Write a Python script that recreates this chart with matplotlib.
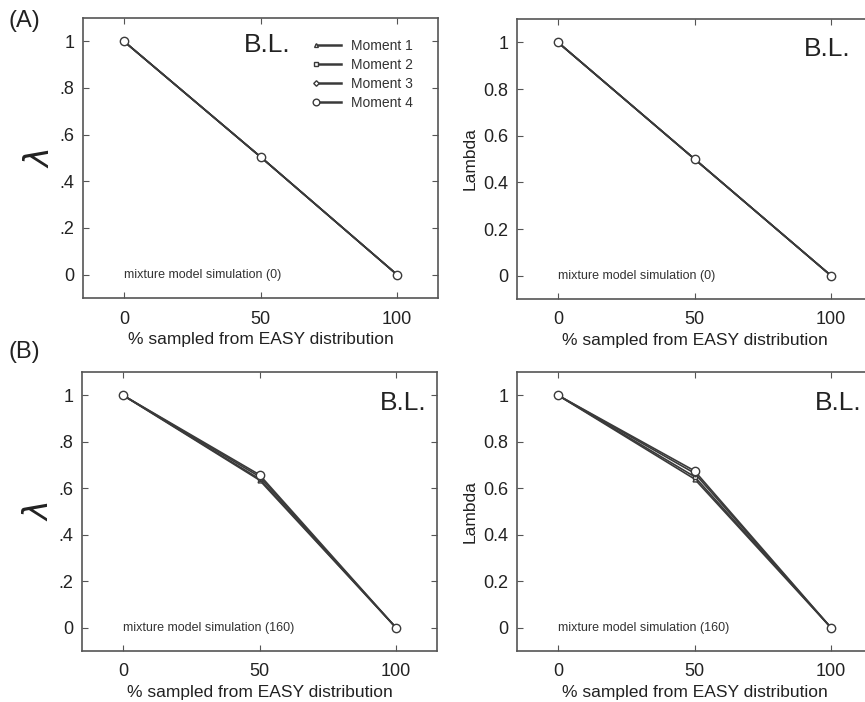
import matplotlib
matplotlib.use("Agg")
import matplotlib.pyplot as plt

plt.rcParams['font.family'] = ['Liberation Sans', 'DejaVu Sans']

# % sampled from EASY distribution
pct_easy = [0, 50, 100]
moment_labels = ['Moment 1', 'Moment 2', 'Moment 3', 'Moment 4']
moment_markers = ['^', 's', 'D', 'o']

# (A) mixture model simulation (0)
lam_a_left = [[1, 0.505, 0], [1, 0.505, 0], [1, 0.505, 0], [1, 0.505, 0]]
lam_a_right = [[1, 0.50, 0], [1, 0.50, 0], [1, 0.50, 0], [1, 0.50, 0]]
# (B) mixture model simulation (160)
lam_b_left = [[1, 0.635, 0], [1, 0.64, 0], [1, 0.65, 0], [1, 0.658, 0]]
lam_b_right = [[1, 0.64, 0], [1, 0.65, 0], [1, 0.665, 0], [1, 0.675, 0]]

ytick_vals = [0, 0.2, 0.4, 0.6, 0.8, 1]
ytick_short = ['0', '.2', '.4', '.6', '.8', '1']
ytick_long = ['0', '0.2', '0.4', '0.6', '0.8', '1']

line_col = '#3a3a3a'
spine_col = '#555555'

fig = plt.figure(figsize=(8.65, 7.02), dpi=100)
W, H = 865, 702


def add_ax(left, top, right, bottom):
    return fig.add_axes([left / W, 1 - bottom / H, (right - left) / W, (bottom - top) / H])


def draw_panel(ax, series, sim_label, short_ticks, bl_pos, legend=False):
    for vals, mk, lab in zip(series, moment_markers, moment_labels):
        ms = 6 if mk == 'o' else 3.5
        ax.plot(pct_easy, vals, color=line_col, lw=1.2, marker=mk, ms=ms,
                mfc='white', mec=line_col, mew=1.0, label=lab)
    ax.set_xlim(-15, 115)
    ax.set_ylim(-0.1, 1.1)
    ax.set_xticks([0, 50, 100])
    ax.set_yticks(ytick_vals)
    ax.set_yticklabels(ytick_short if short_ticks else ytick_long)
    ax.tick_params(direction='in', length=4, top=True, right=True,
                   labelsize=13, colors=spine_col, labelcolor='#222222', pad=6)
    ax.tick_params(axis='x', pad=9)
    for sp in ax.spines.values():
        sp.set_color(spine_col)
        sp.set_linewidth(1.2)
    ax.set_xlabel('% sampled from EASY distribution', fontsize=12.5, color='#222222', labelpad=3)
    ax.text(0, 0, sim_label, fontsize=9, color='#333333', ha='left', va='center')
    ax.text(bl_pos[0], bl_pos[1], 'B.L.', fontsize=19, color='#222222',
            ha='right', va='center', transform=ax.transAxes)
    if short_ticks:
        ax.set_ylabel(r'$\lambda$', fontsize=24, color='#222222', labelpad=3)
    else:
        ax.set_ylabel('Lambda', fontsize=12.5, color='#222222', labelpad=4)
    if legend:
        leg = ax.legend(loc='upper left', bbox_to_anchor=(0.655, 0.925), frameon=False,
                        borderaxespad=0, borderpad=0,
                        fontsize=10, handlelength=1.8, handletextpad=0.75,
                        labelspacing=0.35, markerscale=0.8)
        # marker sits at the left end of the legend line
        for h in leg.legend_handles:
            h.set_markevery([0])
            h.set_linewidth(1.8)
        for t in leg.get_texts():
            t.set_color('#333333')


ax1 = add_ax(83, 18, 438, 298)
ax2 = add_ax(517, 19, 872, 299)
ax3 = add_ax(82, 372, 437, 651)
ax4 = add_ax(517, 372, 872, 651)

draw_panel(ax1, lam_a_left, 'mixture model simulation (0)', True, (0.585, 0.903), legend=True)
draw_panel(ax2, lam_a_right, 'mixture model simulation (0)', False, (0.94, 0.893))
draw_panel(ax3, lam_b_left, 'mixture model simulation (160)', True, (0.97, 0.89))
draw_panel(ax4, lam_b_right, 'mixture model simulation (160)', False, (0.97, 0.89))

fig.text(8 / W, 1 - 21 / H, '(A)', fontsize=17, color='#222222', ha='left', va='center')
fig.text(8 / W, 1 - 352 / H, '(B)', fontsize=17, color='#222222', ha='left', va='center')

fig.savefig('out.png', dpi=100)
